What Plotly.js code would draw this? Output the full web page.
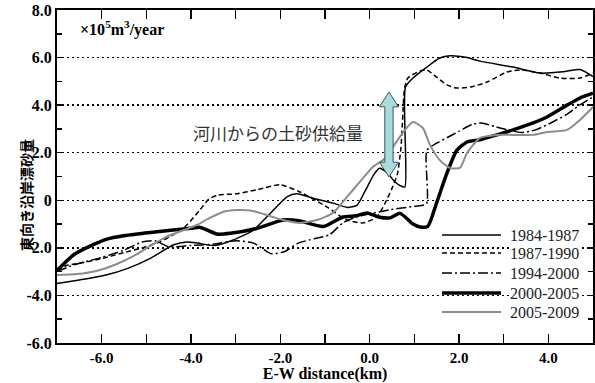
<!DOCTYPE html>
<html><head><meta charset="utf-8">
<script src="https://cdn.plot.ly/plotly-3.0.1.min.js"></script>
<style>html,body{margin:0;padding:0;background:#fff}#chart{width:595px;height:383px}</style>
</head><body><div id="chart"></div>
<script>
// Series: distance (km) and values (x10^5 m3/year)
const names = ["1984-1987","1987-1990","1994-2000","2000-2005","2005-2009"];

const x8487 = [-7,-6.5,-5.9,-5.4,-4.9,-4.4,-4.1,-3.85,-3.5,-3.1,-2.6,-2.2,-1.85,-1.63,-1.27,-0.82,-0.5,-0.28,-0.1,0.1,0.22,0.4,0.55,0.7,0.79,0.8,0.97,1.28,1.57,1.8,2.18,2.47,3.21,3.81,4.33,4.71,5.0];
const y8487 = [-3.5,-3.35,-3.14,-2.85,-2.43,-1.88,-1.75,-1.8,-1.9,-1.7,-1.25,-0.5,0.14,0.27,0.09,-0.12,-0.3,-0.2,0.4,1.1,1.35,1.15,0.8,0.6,0.56,4.75,5.14,5.6,5.98,6.08,6.0,5.85,5.6,5.35,5.4,5.5,5.2];

const x8790 = [-7,-6.8,-6.5,-6,-5.5,-5.0,-4.7,-4.4,-4.1,-3.8,-3.6,-3.4,-3.0,-2.5,-2.0,-1.56,-0.96,-0.51,-0.14,0.16,0.35,0.5,0.62,0.7,0.74,0.78,0.86,1.13,1.28,1.5,1.73,1.95,2.25,2.63,3.07,3.37,3.81,4.26,4.71,5.0];
const y8790 = [-2.95,-2.75,-2.65,-2.45,-2.2,-1.95,-1.75,-1.45,-1.05,-0.4,0.05,0.22,0.27,0.45,0.65,0.35,-0.28,-0.83,-0.95,-0.7,-0.1,0.5,1.1,2.2,3.5,4.7,5.15,5.44,5.48,5.18,4.85,4.72,4.76,4.97,5.39,5.48,5.35,5.14,5.14,5.35];

const x9400 = [-7,-6.6,-6,-5.5,-5.1,-4.8,-4.5,-4.0,-3.5,-3.0,-2.6,-2.2,-1.9,-1.6,-1.2,-0.9,-0.6,-0.3,0.45,1.0,1.27,1.28,1.5,1.75,2.0,2.3,2.5,2.8,3.1,3.4,3.7,4.0,4.4,4.7,5.0];
const y9400 = [-3.0,-2.7,-2.4,-2.1,-1.75,-1.7,-1.95,-1.9,-1.85,-1.7,-1.8,-2.25,-2.15,-1.8,-1.6,-1.45,-0.95,-0.7,-0.4,-0.25,-0.15,2.1,2.4,2.65,2.9,3.2,3.25,3.1,2.95,2.85,2.95,3.2,3.6,4.0,4.35];

const x0005 = [-7,-6.63,-6.25,-5.88,-5.51,-4.76,-4.01,-3.79,-3.42,-3.12,-2.52,-1.94,-1.56,-1.04,-0.6,-0.3,-0.06,0.2,0.46,0.68,0.97,1.13,1.3,1.5,1.73,1.95,2.18,2.47,2.85,3.21,3.66,3.97,4.42,4.71,5.0];
const y0005 = [-2.95,-2.3,-1.92,-1.63,-1.49,-1.32,-1.18,-1.14,-1.42,-1.39,-1.18,-0.83,-0.87,-1.1,-0.7,-0.65,-0.53,-0.7,-0.74,-0.55,-1.0,-1.12,-1.1,-0.1,1.14,2.1,2.45,2.54,2.75,2.96,3.25,3.5,4.0,4.3,4.5];

const x0509 = [-7,-6.55,-6.1,-5.66,-5.28,-4.91,-4.54,-4.16,-3.87,-3.57,-3.27,-2.97,-2.67,-2.3,-1.94,-1.56,-1.18,-0.82,-0.51,-0.22,0.07,0.3,0.52,0.79,0.97,1.19,1.35,1.57,1.8,2.02,2.18,2.47,2.85,3.21,3.66,3.97,4.42,4.71,5.0];
const y0509 = [-3.14,-3.1,-2.96,-2.68,-2.34,-1.92,-1.53,-1.25,-1.04,-0.73,-0.48,-0.41,-0.43,-0.62,-0.83,-0.95,-0.83,-0.53,0.14,0.77,1.4,1.69,2.24,2.96,3.29,3.04,2.33,1.69,1.36,1.36,1.99,2.62,2.75,2.75,2.75,2.87,2.96,3.38,3.92];

const yTickVals = [-6,-4,-2,0,2,4,6,8];
const yTickText = ["-6.0","-4.0","-2.0","0","2.0","4.0","6.0","8.0"];
const xTickVals = [-6,-4,-2,0,2,4];
const xTickText = ["-6.0","-4.0","-2.0","0.0","2.0","4.0"];

const serif = "Liberation Serif";
const jp = "Noto Sans CJK JP";
const b = s => '<b>' + s + '</b>';

const styles = [
  {color:'#000', width:1.5},
  {color:'#000', width:1.5, dash:'5px,3px'},
  {color:'#000', width:1.5, dash:'10px,3px,2px,3px'},
  {color:'#000', width:3.5},
  {color:'#8c8c8c', width:2}
];
const xs = [x8487, x8790, x9400, x0005, x0509];
const ys = [y8487, y8790, y9400, y0005, y0509];

const data = names.map((n, i) => ({x: xs[i], y: ys[i], name: n, type:'scatter', mode:'lines',
  line: Object.assign({shape:'spline', smoothing:0.6}, styles[i])}));

// custom legend (paper coords)
const W = 536, H = 333, L = 57, T = 10;
const px = p => (p - L) / W;
const py = p => (T + H - p) / H;
const legendRows = [235, 253, 273, 293, 312];
const legendShapes = names.map((n, i) => ({type:'line', xref:'paper', yref:'paper',
  x0: px(442), x1: px(501), y0: py(legendRows[i]), y1: py(legendRows[i]),
  line: Object.assign({}, styles[i])}));
const legendTexts = names.map((n, i) => ({xref:'paper', yref:'paper', x: px(509), y: py(legendRows[i]),
  xanchor:'left', yanchor:'middle', showarrow:false, text:n, bgcolor:'#fff', borderpad:0,
  font:{family:serif, size:16, color:'#222'}}));

const arrowPath = 'M0.432,4.55 L0.645,3.93 L0.525,3.93 L0.525,1.6 L0.645,1.6 L0.432,0.98 L0.219,1.6 L0.339,1.6 L0.339,3.93 L0.219,3.93 Z';

const layout = {
  width:595, height:383,
  margin:{l:57, r:2, t:10, b:40},
  paper_bgcolor:'#fff', plot_bgcolor:'#fff',
  showlegend:false,
  xaxis:{range:[-7,5], showline:true, linecolor:'#000', linewidth:2, mirror:'ticks',
    ticks:'inside', ticklen:4, tickwidth:1.5, tickcolor:'#000',
    tickvals:xTickVals, ticktext:xTickText.map(b), showgrid:false, zeroline:false,
    minor:{dtick:1, tick0:-7, ticks:'inside', ticklen:9, tickwidth:1.5, tickcolor:'#000', showgrid:false},
    tickfont:{family:serif, size:15, color:'#000'},
    title:{text:b('E-W distance(km)'), font:{family:serif, size:16, color:'#000'}, standoff:3}},
  yaxis:{range:[-6,8], showline:true, linecolor:'#000', linewidth:2, mirror:'ticks',
    ticks:'inside', ticklen:5, tickwidth:1.5, tickcolor:'#000',
    tickvals:yTickVals, ticktext:yTickText.map(b),
    showgrid:true, gridcolor:'#000', gridwidth:1.5, griddash:'2px,3px', zeroline:false,
    minor:{dtick:1, tick0:-6, ticks:'inside', ticklen:5, tickwidth:1.5, tickcolor:'#000', showgrid:false},
    tickfont:{family:serif, size:16, color:'#000'}},
  shapes:[{type:'path', xref:'x', yref:'y', path:arrowPath, fillcolor:'#a9dadc', line:{color:'#3c5656', width:1}}]
    .concat(legendShapes),
  annotations:[
    {xref:'paper', yref:'paper', x:px(78), y:py(28), xanchor:'left', yanchor:'middle', showarrow:false,
     text:b('×10<sup>5</sup>m<sup>3</sup>/year'), font:{family:serif, size:16, color:'#000'}},
    {xref:'x', yref:'y', x:-2.05, y:2.83, showarrow:false, text:'河川からの土砂供給量',
     font:{family:jp, size:17, color:'#333'}},
    {xref:'paper', yref:'paper', x:px(14), y:py(195), showarrow:false, textangle:-90,
     text:b('東向き沿岸漂砂量'), font:{family:jp, size:14, color:'#000'}}
  ].concat(legendTexts)
};

Plotly.newPlot('chart', data, layout, {staticPlot:true, displayModeBar:false});
</script></body></html>
